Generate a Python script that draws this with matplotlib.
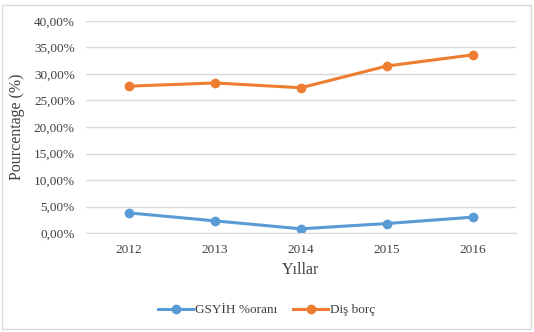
import matplotlib.pyplot as plt
from matplotlib.patches import Rectangle
from matplotlib.ticker import FuncFormatter

# veriler
years = ['2012', '2013', '2014', '2015', '2016']
gsyih = [3.8, 2.3, 0.8, 1.8, 3.0]
dis_borc = [27.7, 28.3, 27.4, 31.5, 33.6]

plt.rcParams['font.family'] = ['Liberation Serif', 'DejaVu Serif']

fig = plt.figure(figsize=(5.34, 3.32), dpi=100)
ax = fig.add_axes([0.161, 0.298, 0.805, 0.639])

x = range(len(years))
ax.plot(x, gsyih, '-o', color='#5B9BD5', lw=2.2, ms=6, label='GSYİH %oranı')
ax.plot(x, dis_borc, '-o', color='#ED7D31', lw=2.2, ms=6, label='Diş borç')

ax.set_xlim(-0.5, len(years) - 0.5)
ax.set_ylim(0, 40)
ax.set_yticks(range(0, 41, 5))
ax.yaxis.set_major_formatter(FuncFormatter(lambda v, p: ('%.2f%%' % v).replace('.', ',')))
ax.set_xticks(list(x))
ax.set_xticklabels(years)
ax.grid(axis='y', color='#d9d9d9', lw=1)
ax.set_axisbelow(True)
for s in ['top', 'right', 'left']:
    ax.spines[s].set_visible(False)
ax.spines['bottom'].set_color('#d9d9d9')
ax.tick_params(length=0, labelsize=9.5, colors='#404040', pad=8)
ax.set_xlabel('Yıllar', fontsize=11.5, color='#404040', labelpad=4)
ax.set_ylabel('Pourcentage (%)', fontsize=11.5, color='#404040', labelpad=6)

fig.legend(loc='center', bbox_to_anchor=(0.5, 0.066), ncol=2, frameon=False,
           fontsize=9.5, handlelength=2.6, columnspacing=1.2, handletextpad=0.2,
           labelcolor='#404040')

fig.patches.append(Rectangle((0.004, 0.01), 0.99, 0.975, transform=fig.transFigure,
                             fill=False, edgecolor='#d9d9d9', lw=1))

fig.savefig('out.png', dpi=100)
